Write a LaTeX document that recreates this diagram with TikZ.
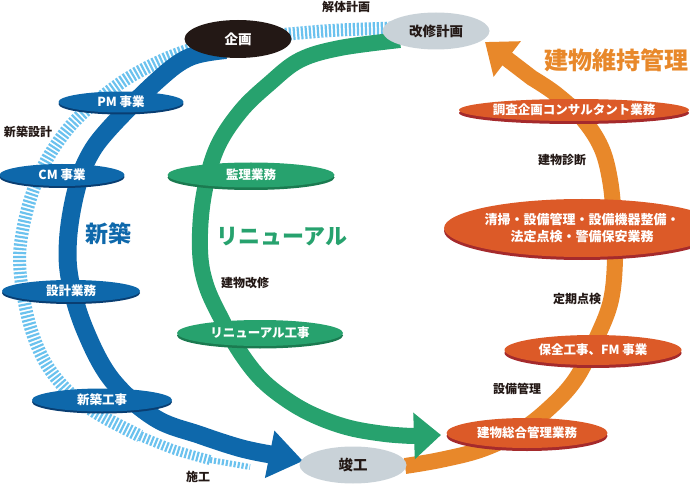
\documentclass[tikz,border=0pt]{standalone}
\usepackage{fontspec}
\newfontfamily\jp{Noto Sans CJK JP}
\usetikzlibrary{shapes.geometric,arrows.meta,shadows}
\definecolor{bl}{HTML}{0E68AB}
\definecolor{bldk}{HTML}{093E72}
\definecolor{lb}{HTML}{6BC2EE}
\definecolor{gr}{HTML}{27A26E}
\definecolor{grdk}{HTML}{1B7A50}
\definecolor{orarc}{HTML}{E8882A}
\definecolor{ornode}{HTML}{DC5A28}
\definecolor{ordk}{HTML}{A52A2C}
\definecolor{greyn}{HTML}{C9D2D8}
\definecolor{ink}{HTML}{231815}
\begin{document}
\begin{tikzpicture}[x=1pt,y=-1pt,
  ell/.style={ellipse, inner sep=0pt, text=white, font=\jp\bfseries\fontsize{12.5}{14}\selectfont},
  bnode/.style={ell, fill=bl, drop shadow={shadow xshift=0pt, shadow yshift=-2pt, fill=bldk, opacity=1}},
  gnode/.style={ell, fill=gr, drop shadow={shadow xshift=0pt, shadow yshift=-2.5pt, fill=grdk, opacity=1}},
  onode/.style={ell, fill=ornode, drop shadow={shadow xshift=0pt, shadow yshift=-3pt, fill=ordk, opacity=1}},
  keynode/.style={ell, font=\jp\bfseries\fontsize{13.5}{15}\selectfont},
  lbl/.style={inner sep=0pt, text=ink, font=\jp\bfseries\fontsize{12}{14}\selectfont},
  big/.style={inner sep=0pt, font=\jp\bfseries\fontsize{23}{26}\selectfont},
  hatch/.style={draw=lb, dash pattern=on 2.2pt off 1.8pt},
  bluearc/.style={draw=bl, line width=18pt, -{Triangle[width=46pt,length=34pt]}},
  greenarc/.style={draw=gr, line width=16pt, -{Triangle[width=45pt,length=27pt]}},
  orangearc/.style={draw=orarc, line width=16pt, -{Triangle[width=43pt,length=28pt]}}
]
\useasboundingbox (0,0) rectangle (690,486);

% arrow tips / free ends
\coordinate (btip) at (303,461);
\coordinate (gtip) at (441,435);
\coordinate (otip) at (485,42);
\coordinate (hend) at (250,467);

% light blue hatched arc
\draw[hatch, line width=13pt] plot[smooth, tension=0.6] coordinates {(395,28) (340,30) (300,33) (250,38) (210,45) (180,53) (150,66) (122,82) (92,105) (67,130) (45,163) (30,200) (21,240) (20,270) (25,305) (33,335) (45,362) (62,385) (82,403) (105,418) (140,436)};
\draw[hatch, line width=10pt] plot[smooth] coordinates {(140,436) (175,450) (210,460)};
\draw[hatch, line width=6pt] (210,460) -- (hend);

% blue arc
\draw[bluearc] plot[smooth, tension=0.6] coordinates {(226,50) (190,57) (158,80) (108,130) (87,160) (75,195) (68,240) (70,280) (85,330) (112,380) (155,418) (200,435) (240,448) (268,454)} -- (btip);

% orange arc
\draw[orangearc] plot[smooth, tension=0.6] coordinates {(405,466) (440,460) (480,450) (515,434) (545,412) (575,380) (598,335) (611,300) (615,260) (614,220) (610,180) (601,147) (582,118) (556,94) (532,78)} -- (otip);

% green arc
\draw[greenarc] plot[smooth, tension=0.6] coordinates {(400,40) (340,48) (300,60) (270,83) (240,112) (216,150) (203,200) (200,250) (206,285) (222,320) (240,352) (262,380) (290,402) (318,417) (350,428) (385,434) (412,436)} -- (gtip);

% key nodes
\node[keynode, fill=ink, minimum width=107pt, minimum height=38pt] (kikaku) at (238,39) {企画};
\node[keynode, fill=greyn, text=ink, minimum width=107pt, minimum height=37pt] (kaishu) at (436,31) {改修計画};
\node[keynode, fill=greyn, text=ink, minimum width=107pt, minimum height=37pt, font=\jp\bfseries\fontsize{14.5}{16}\selectfont] (shunko) at (353,465) {竣工};

% blue nodes
\node[bnode, minimum width=125pt, minimum height=21pt] (pm) at (121,102) {PM 事業};
\node[bnode, minimum width=125pt, minimum height=22pt] (cm) at (62,175) {CM 事業};
\node[bnode, minimum width=138pt, minimum height=22pt] (sekkei) at (71,291) {設計業務};
\node[bnode, minimum width=140pt, minimum height=23pt] (koji) at (102,400) {新築工事};

% green nodes
\node[gnode, minimum width=167pt, minimum height=25pt] (kanri) at (251,175) {監理業務};
\node[gnode, minimum width=166pt, minimum height=26pt] (renko) at (260,333) {リニューアル工事};

% orange nodes
\node[onode, minimum width=195pt, minimum height=22pt] (chosa) at (574,110) {調査企画コンサルタント業務};
\node[onode, minimum width=216pt, minimum height=58pt, align=center, font=\jp\bfseries\fontsize{13}{17}\selectfont] (seiso) at (582,228) {清掃・設備管理・設備機器整備・\\法定点検・警備保安業務};
\node[onode, minimum width=177pt, minimum height=30pt] (hozen) at (593,350) {保全工事、FM 事業};
\node[onode, minimum width=161pt, minimum height=30pt] (sogo) at (527,433) {建物総合管理業務};

% small labels
\node[lbl] (kaitai) at (346,7) {解体計画};
\node[lbl] (shinsekkei) at (28,132) {新築設計};
\node[lbl] (seko) at (198,477) {施工};
\node[lbl] (kaishuL) at (245,283) {建物改修};
\node[lbl] (shindan) at (562,160) {建物診断};
\node[lbl] (teiki) at (577,299) {定期点検};
\node[lbl] (setsubi) at (517,389) {設備管理};

% big labels
\node[big, text=bl] (shinchiku) at (108,234) {新築};
\node[big, text=gr, font=\jp\bfseries\fontsize{22}{26}\selectfont] (renewal) at (282,237) {リニューアル};
\node[big, text=orarc, font=\jp\bfseries\fontsize{24}{26}\selectfont] (iji) at (616,60) {建物維持管理};
\end{tikzpicture}
\end{document}
